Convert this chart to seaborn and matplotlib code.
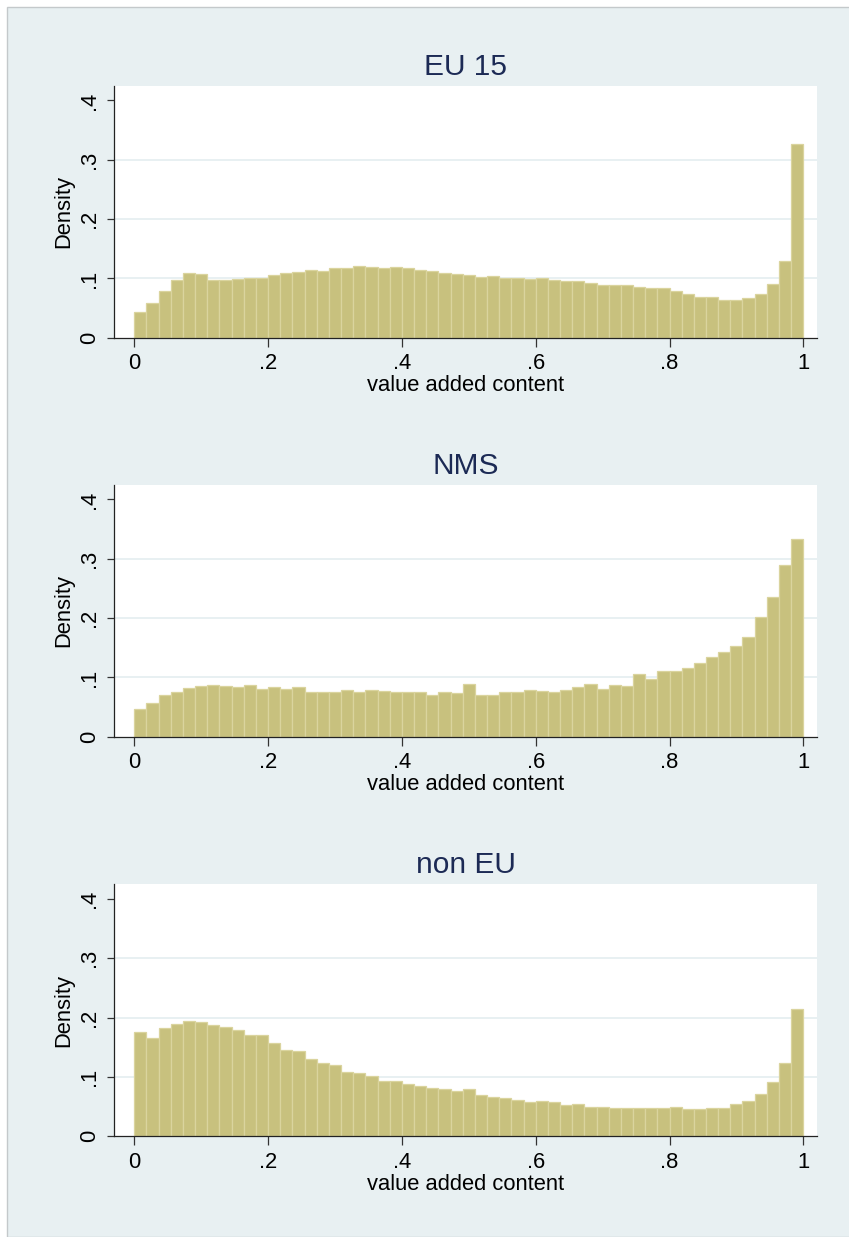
import numpy as np
import pandas as pd
import matplotlib
matplotlib.use("Agg")
import matplotlib.pyplot as plt
import seaborn as sns
from matplotlib.patches import Rectangle

# Histogram heights (density) for 55 equal-width bins on [0, 1]
eu15_density = [
    0.043, 0.058, 0.079, 0.098, 0.109, 0.107, 0.098, 0.097, 0.099, 0.100, 0.100,
    0.105, 0.109, 0.110, 0.114, 0.113, 0.117, 0.117, 0.121, 0.119, 0.118, 0.119,
    0.117, 0.114, 0.112, 0.109, 0.107, 0.106, 0.103, 0.104, 0.100, 0.101, 0.099,
    0.101, 0.098, 0.095, 0.095, 0.092, 0.089, 0.089, 0.089, 0.086, 0.084, 0.083,
    0.079, 0.074, 0.069, 0.069, 0.064, 0.064, 0.067, 0.074, 0.091, 0.130, 0.326,
]
nms_density = [
    0.047, 0.057, 0.070, 0.076, 0.082, 0.085, 0.087, 0.086, 0.084, 0.087, 0.081,
    0.083, 0.080, 0.084, 0.075, 0.076, 0.075, 0.079, 0.076, 0.078, 0.077, 0.075,
    0.075, 0.075, 0.071, 0.075, 0.073, 0.089, 0.070, 0.070, 0.075, 0.075, 0.079,
    0.077, 0.075, 0.079, 0.083, 0.089, 0.080, 0.087, 0.086, 0.106, 0.097, 0.110,
    0.110, 0.116, 0.124, 0.134, 0.143, 0.153, 0.168, 0.201, 0.235, 0.289, 0.334,
]
noneu_density = [
    0.175, 0.166, 0.182, 0.190, 0.195, 0.192, 0.187, 0.185, 0.179, 0.171, 0.170,
    0.157, 0.145, 0.143, 0.130, 0.123, 0.120, 0.109, 0.106, 0.101, 0.093, 0.093,
    0.088, 0.084, 0.081, 0.079, 0.076, 0.080, 0.069, 0.067, 0.065, 0.062, 0.057,
    0.060, 0.057, 0.053, 0.055, 0.050, 0.049, 0.048, 0.047, 0.047, 0.048, 0.048,
    0.049, 0.046, 0.046, 0.048, 0.048, 0.054, 0.059, 0.071, 0.092, 0.123, 0.215,
]
titles = ["EU 15", "NMS", "non EU"]
x_label = "value added content"
y_label = "Density"
x_ticks = [0, 0.2, 0.4, 0.6, 0.8, 1.0]
x_tick_labels = ["0", ".2", ".4", ".6", ".8", "1"]
y_ticks = [0, 0.1, 0.2, 0.3, 0.4]
y_tick_labels = ["0", ".1", ".2", ".3", ".4"]

n_bins = len(eu15_density)
bin_centers = (np.arange(n_bins) + 0.5) / n_bins

BG = "#E8F0F2"
BAR = "#C8C17E"
BAR_EDGE = "#DAD49E"
TITLE_COLOR = "#1C2A55"

sns.set_theme(style="white")
plt.rcParams["font.family"] = ["Liberation Sans", "DejaVu Sans"]

W, H = 849, 1237
fig = plt.figure(figsize=(W / 100, H / 100), dpi=100, facecolor="white")
# graph region: light bluish-gray panel with a thin gray outline
fig.add_artist(Rectangle((7 / W, 0.5 / H), 1.1, (H - 7) / H,
                         transform=fig.transFigure, facecolor=BG,
                         edgecolor="#C4C9CB", linewidth=1.0, zorder=0))

panel_bottoms = [337.7, 736.7, 1136.3]
ax_left, ax_width, ax_height = 114.3, 703.0, 252.0

for title, values, bottom in zip(titles, [eu15_density, nms_density, noneu_density],
                                 panel_bottoms):
    ax = fig.add_axes([ax_left / W, (H - bottom) / H, ax_width / W, ax_height / H])
    ax.set_facecolor("white")
    df = pd.DataFrame({"value": bin_centers, "density": values})
    sns.histplot(data=df, x="value", weights="density", bins=n_bins,
                 binrange=(0, 1), stat="count", ax=ax, color=BAR,
                 edgecolor=BAR_EDGE, linewidth=0.9, alpha=1.0)
    ax.set_xlim(-0.0299, 1.0209)
    ax.set_ylim(0, 0.4248)
    ax.set_xticks(x_ticks)
    ax.set_xticklabels(x_tick_labels)
    ax.set_yticks(y_ticks)
    ax.set_yticklabels(y_tick_labels, rotation=90, va="center")

    ax.set_axisbelow(True)
    ax.yaxis.grid(True, color=BG, linewidth=1.4)
    ax.xaxis.grid(False)
    gl = ax.get_ygridlines()
    gl[0].set_visible(False)
    gl[-1].set_visible(False)

    for side in ["top", "right"]:
        ax.spines[side].set_visible(False)
    for side in ["left", "bottom"]:
        ax.spines[side].set_color("#222222")
        ax.spines[side].set_linewidth(0.9)

    ax.tick_params(axis="x", bottom=True, direction="out", length=6.5, width=0.9,
                   color="#333333", pad=4.5, labelsize=15.8, labelcolor="black")
    ax.tick_params(axis="y", left=True, direction="out", length=5.0, width=0.9,
                   color="#333333", pad=5.5, labelsize=15.8, labelcolor="black")

    ax.set_xlabel(x_label, fontsize=15.8, color="black", labelpad=1)
    ax.set_ylabel(y_label, fontsize=15.8, color="black", labelpad=3)
    ax.set_title(title, fontsize=21.5, color=TITLE_COLOR, pad=8)

fig.savefig("out.png", dpi=100, facecolor=fig.get_facecolor())
